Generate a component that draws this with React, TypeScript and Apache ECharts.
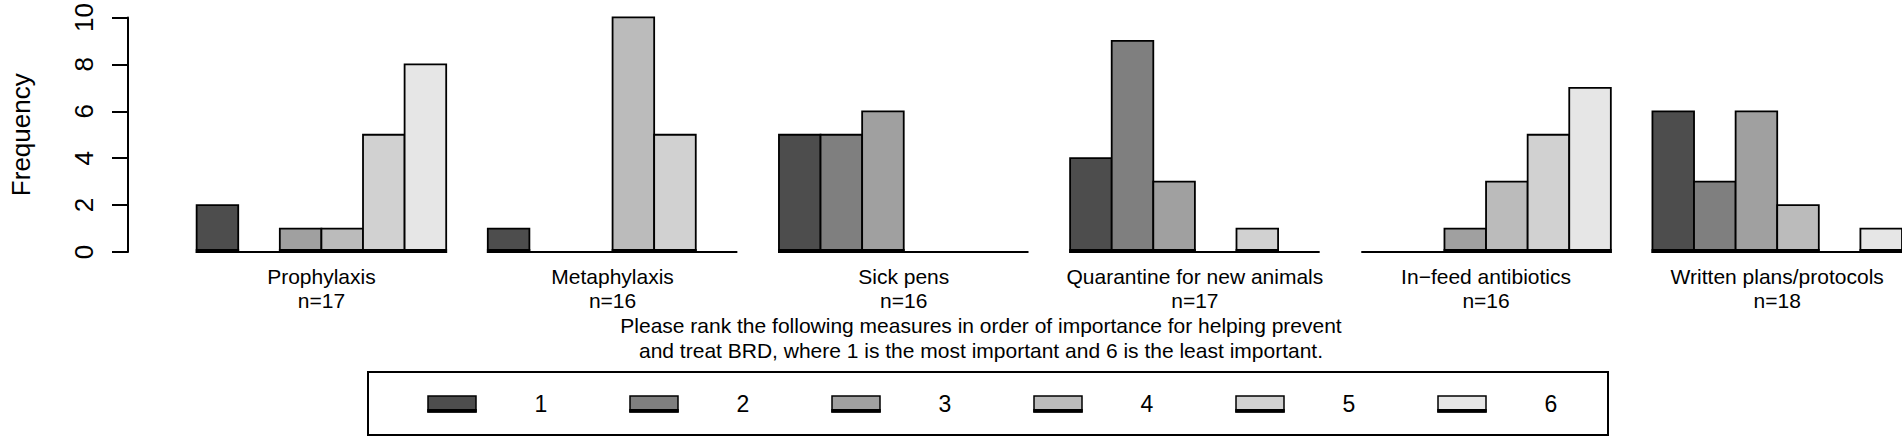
import React, { useEffect, useRef } from "react";
import * as echarts from "echarts";

// ---------- data ----------
const categories = [
  "Prophylaxis",
  "Metaphylaxis",
  "Sick pens",
  "Quarantine for new animals",
  "In\u2212feed antibiotics",
  "Written plans/protocols",
];
const nLabels = ["n=17", "n=16", "n=16", "n=17", "n=16", "n=18"];
const ranks = ["1", "2", "3", "4", "5", "6"];

// frequency of each rank, per measure (same order as categories)
const rank1 = [2, 1, 5, 4, 0, 6];
const rank2 = [0, 0, 5, 9, 0, 3];
const rank3 = [1, 0, 6, 3, 1, 6];
const rank4 = [1, 10, 0, 0, 3, 2];
const rank5 = [5, 5, 0, 1, 5, 0];
const rank6 = [8, 0, 0, 0, 7, 1];
const rankValues = [rank1, rank2, rank3, rank4, rank5, rank6];

const rankColors = ["#4D4D4D", "#7F7F7F", "#A0A0A0", "#BBBBBB", "#D1D1D1", "#E6E6E6"];
const yTicks = [0, 2, 4, 6, 8, 10];

const captionLines = [
  "Please rank the following measures in order of importance for helping prevent",
  "and treat BRD, where 1 is the most important and 6 is the least important.",
];

// ---------- layout (R barplot, beside = TRUE, space = c(0, 1)) ----------
const BARS = 6;
const SPACE = 1;
const groupStart = (g: number) => SPACE + g * (BARS + SPACE);
const barStart = (g: number, r: number) => groupStart(g) + r;
const groupCenter = (g: number) => groupStart(g) + BARS / 2;

const FONT = "'Liberation Sans', Arial, Helvetica, sans-serif";

export default function App() {
  const ref = useRef<HTMLDivElement>(null);

  useEffect(() => {
    document.body.style.margin = "0";
    const chart = echarts.init(ref.current!, undefined, { renderer: "svg" });

    const centers = categories.map((_, g) => groupCenter(g));

    const barSeries = rankValues.map((vals, r) => ({
      type: "custom",
      name: ranks[r],
      coordinateSystem: "cartesian2d",
      clip: false,
      encode: { x: 0, y: 1 },
      data: vals.map((v, g) => [barStart(g, r), v]),
      renderItem: (params: any, api: any) => {
        const x0 = api.value(0);
        const v = api.value(1);
        if (!v) return { type: "group", children: [] };
        const p0 = api.coord([x0, v]);
        const p1 = api.coord([x0 + 1, 0]);
        const w = p1[0] - p0[0];
        return {
          type: "group",
          children: [
            {
              type: "rect",
              shape: { x: p0[0], y: p0[1], width: w, height: p1[1] - p0[1] },
              style: { fill: rankColors[r], stroke: "#000", lineWidth: 1.8 },
            },
            {
              type: "rect",
              shape: { x: p0[0] - 0.9, y: p1[1] - 3, width: w + 1.8, height: 4 },
              style: { fill: "#000" },
            },
          ],
        };
      },
    }));

    const baselineSeries = {
      type: "custom",
      name: "baseline",
      coordinateSystem: "cartesian2d",
      clip: false,
      encode: { x: [0, 1], y: 2 },
      data: categories.map((_, g) => [groupStart(g), groupStart(g) + BARS, 0]),
      renderItem: (params: any, api: any) => {
        const a = api.coord([api.value(0), api.value(2)]);
        const b = api.coord([api.value(1), api.value(2)]);
        return {
          type: "line",
          shape: { x1: a[0], y1: a[1], x2: b[0], y2: b[1] },
          style: { stroke: "#000", lineWidth: 2 },
        };
      },
    };

    const legendChildren: any[] = [
      {
        type: "rect",
        shape: { x: 368, y: 372, width: 1240, height: 63 },
        style: { fill: "none", stroke: "#000", lineWidth: 2 },
      },
    ];
    ranks.forEach((label, i) => {
      const sx = 428 + 202 * i;
      legendChildren.push(
        {
          type: "rect",
          shape: { x: sx, y: 396, width: 48, height: 16 },
          style: { fill: rankColors[i], stroke: "#000", lineWidth: 1.5 },
        },
        {
          type: "rect",
          shape: { x: sx - 0.75, y: 409, width: 49.5, height: 3.5 },
          style: { fill: "#000" },
        },
        {
          type: "text",
          x: 541 + 202 * i,
          y: 404,
          style: {
            text: label,
            fill: "#000",
            font: `23px ${FONT}`,
            align: "center",
            verticalAlign: "middle",
          },
        }
      );
    });

    const option: any = {
      animation: false,
      textStyle: { fontFamily: FONT, color: "#000" },
      grid: { left: 118, right: 0, top: 13, bottom: 184, containLabel: false },
      xAxis: {
        type: "value",
        min: -0.65,
        max: 42,
        axisLine: { show: false, onZero: false },
        axisTick: { show: false },
        splitLine: { show: false },
        axisLabel: {
          customValues: centers,
          showMinLabel: true,
          showMaxLabel: true,
          hideOverlap: false,
          margin: 12,
          fontSize: 21,
          lineHeight: 24,
          color: "#000",
          fontFamily: FONT,
          formatter: (v: number) => {
            const g = Math.round((v - groupCenter(0)) / (BARS + SPACE));
            return categories[g] !== undefined ? `${categories[g]}\n${nLabels[g]}` : "";
          },
        },
      },
      yAxis: {
        type: "value",
        min: yTicks[0],
        max: yTicks[yTicks.length - 1],
        interval: 2,
        name: "Frequency",
        nameLocation: "middle",
        nameRotate: 90,
        nameGap: 94,
        nameTextStyle: { fontSize: 26, color: "#000", fontFamily: FONT },
        axisLine: { show: true, onZero: false, lineStyle: { color: "#000", width: 2 } },
        axisTick: { show: true, length: 16, lineStyle: { color: "#000", width: 2 } },
        splitLine: { show: false },
        axisLabel: {
          rotate: 90,
          margin: 31,
          fontSize: 26,
          color: "#000",
          fontFamily: FONT,
        },
      },
      series: [baselineSeries, ...barSeries],
      graphic: [
        ...captionLines.map((line, i) => ({
          type: "text",
          x: 981,
          y: 325 + 25 * i,
          style: {
            text: line,
            fill: "#000",
            font: `21px ${FONT}`,
            align: "center",
            verticalAlign: "middle",
          },
        })),
        { type: "group", children: legendChildren },
      ],
    };

    chart.setOption(option);
    return () => chart.dispose();
  }, []);

  return (
    <div
      ref={ref}
      style={{ position: "absolute", left: 0, top: 0, width: 1902, height: 436, background: "#fff" }}
    />
  );
}
